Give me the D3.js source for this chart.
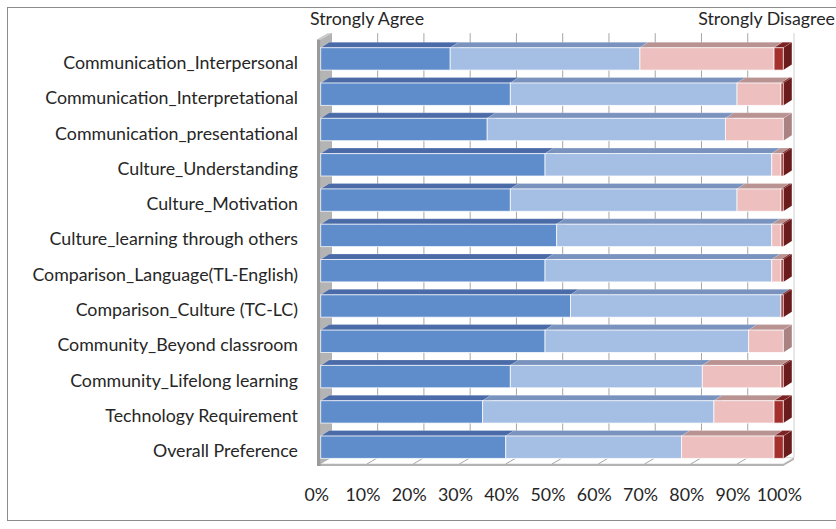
<!DOCTYPE html>
<html><head><meta charset="utf-8">
<script src="https://cdn.jsdelivr.net/npm/d3@7/dist/d3.min.js"></script>
<style>
html,body{margin:0;padding:0;background:#fff;}
svg{display:block;font-family:Lato,"Open Sans",sans-serif;}
</style></head><body>
<svg id="c" width="836" height="529"></svg>
<script>
const categories = [
  "Communication_Interpersonal",
  "Communication_Interpretational",
  "Communication_presentational",
  "Culture_Understanding",
  "Culture_Motivation",
  "Culture_learning through others",
  "Comparison_Language(TL-English)",
  "Comparison_Culture (TC-LC)",
  "Community_Beyond classroom",
  "Community_Lifelong learning",
  "Technology Requirement",
  "Overall Preference"
];
const stronglyAgree    = [28,   41,   36,   48.5, 41,   51,   48.5, 54,   48.5, 41,   35,   40];
const agree            = [41,   49,   51.5, 49,   49,   46.5, 49,   45.5, 44,   41.5, 50,   38];
const disagree         = [29,   9.5,  12.5, 2,    9.5,  2,    2,    0,    7.5,  17,   13,   20];
const stronglyDisagree = [2,    0.5,  0,    0.5,  0.5,  0.5,  0.5,  0.5,  0,    0.5,  2,    2];
const seriesNames = ["Strongly Agree","Agree","Disagree","Strongly Disagree"];
const tickValues = [0,10,20,30,40,50,60,70,80,90,100];

const svg = d3.select("#c");
const W = 836, H = 529;
const FS = 17.8;

const colors = [
  {front:"#5f8ccb", top:"#4a6ba8", side:"#3d5b91"},
  {front:"#a4bee4", top:"#7a93be", side:"#6b83ad"},
  {front:"#edbfbf", top:"#b99292", side:"#a98282"},
  {front:"#a3302c", top:"#7c2222", side:"#6a1b1b"}
];

const table = categories.map((c,i)=>({cat:c, SA:stronglyAgree[i], A:agree[i], D:disagree[i], SD:stronglyDisagree[i]}));
const stack = d3.stack().keys(["SA","A","D","SD"])(table);

const x = d3.scaleLinear().domain([0,100]).range([320.7, 783.3]);       // front plane
const xl = d3.scaleLinear().domain([0,100]).range([316.7, 779.3]);      // tick label positions
const y = d3.scaleBand().domain(categories).range([47.7, 458.4]).paddingInner(0.365).paddingOuter(0);

const wdx = 10.7, wdy = -6.3;
const bdx = 8.5, bdy = -5.5;
const floorY = 464, floorT = 2;
const wallTop = 39.5, wallThick = 3.7;

svg.append("rect").attr("x",7.5).attr("y",7.5).attr("width",W).attr("height",513)
  .attr("fill","none").attr("stroke","#8c8c8c").attr("stroke-width",1);

const plot = svg.append("g");

plot.selectAll("line.grid").data(tickValues).join("line").attr("class","grid")
  .attr("x1",d=>x(d)+wdx).attr("x2",d=>x(d)+wdx)
  .attr("y1",wallTop+wdy).attr("y2",floorY+wdy)
  .attr("stroke",d=>d===100?"#cfcfcf":"#a6a6a6").attr("stroke-width",1);

const x0 = x(0), x1 = x(100);
plot.append("path")
  .attr("d",`M${x0-wallThick},${floorY} L${x1},${floorY} L${x1+wdx},${floorY+wdy} L${x0+wdx},${floorY+wdy} Z`)
  .attr("fill","#ffffff").attr("stroke","#d0d0d0").attr("stroke-width",0.8);
plot.append("path")
  .attr("d",`M${x0-wallThick},${floorY} L${x1},${floorY} L${x1+wdx},${floorY+wdy} L${x1+wdx},${floorY+wdy+floorT} L${x1},${floorY+floorT} L${x0-wallThick},${floorY+floorT} Z`)
  .attr("fill","#b3b3b3");
plot.selectAll("line.fgrid").data(tickValues.filter(d=>d>0&&d<100)).join("line").attr("class","fgrid")
  .attr("x1",d=>x(d)).attr("y1",floorY)
  .attr("x2",d=>x(d)+wdx).attr("y2",floorY+wdy)
  .attr("stroke","#a6a6a6").attr("stroke-width",1);

plot.append("path")
  .attr("d",`M${x0+wdx},${wallTop+wdy} L${x0},${wallTop} L${x0},${floorY} L${x0+wdx},${floorY+wdy} Z`)
  .attr("fill","#b4b4b4");
plot.append("path")
  .attr("d",`M${x0-wallThick},${wallTop} L${x0-wallThick+wdx},${wallTop+wdy} L${x0+wdx},${wallTop+wdy} L${x0},${wallTop} Z`)
  .attr("fill","#c8c8c8");
plot.append("rect").attr("x",x0-wallThick).attr("y",wallTop).attr("width",wallThick).attr("height",floorY+floorT-wallTop)
  .attr("fill","#9a9a9a");

const bars = plot.append("g");
categories.forEach((cat,ci)=>{
  const yt = y(cat), h = y.bandwidth();
  stack.forEach((s,si)=>{
    const a = s[ci][0], b = s[ci][1];
    if (b - a <= 0) return;
    const xa = x(a), xb = x(b);
    const col = colors[si];
    const g = bars.append("g");
    g.append("path")
      .attr("d",`M${xb},${yt} L${xb+bdx},${yt+bdy} L${xb+bdx},${yt+h+bdy} L${xb},${yt+h} Z`)
      .attr("fill",col.side);
    g.append("path")
      .attr("d",`M${xa},${yt} L${xa+bdx},${yt+bdy} L${xb+bdx},${yt+bdy} L${xb},${yt} Z`)
      .attr("fill",col.top).attr("stroke","rgba(255,255,255,0.35)").attr("stroke-width",0.6);
    g.append("rect").attr("x",xa).attr("y",yt).attr("width",xb-xa).attr("height",h)
      .attr("fill",col.front).attr("stroke","rgba(255,255,255,0.75)").attr("stroke-width",1);
  });
});

svg.append("g").selectAll("text").data(categories).join("text")
  .attr("x",298).attr("y",d=>y(d)+y.bandwidth()/2+10)
  .attr("text-anchor","end").attr("font-size",FS).attr("fill","#262626")
  .text(d=>d);

svg.append("g").selectAll("text").data(tickValues).join("text")
  .attr("x",d=>xl(d)).attr("y",501)
  .attr("text-anchor","middle").attr("font-size",FS).attr("fill","#262626")
  .text(d=>d+"%");

svg.append("text").attr("x",310).attr("y",25).attr("font-size",FS).attr("fill","#262626").text(seriesNames[0]);
svg.append("text").attr("x",835).attr("y",25).attr("text-anchor","end").attr("font-size",FS).attr("fill","#262626").text(seriesNames[3]);
</script>
</body></html>
